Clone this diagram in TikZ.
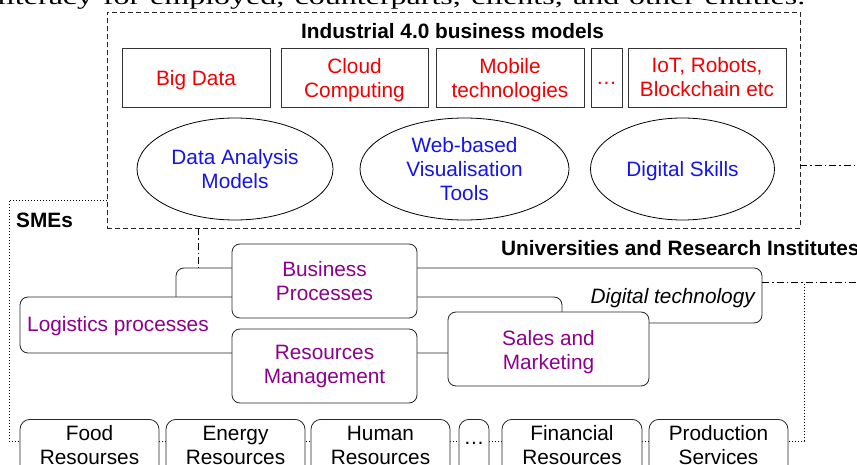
\documentclass[tikz,border=0pt]{standalone}
\usepackage{fontspec}
\setmainfont{Liberation Sans}
\newfontfamily\paperfont{Liberation Serif}
\usetikzlibrary{shapes.geometric}
\definecolor{tred}{RGB}{240,0,0}
\definecolor{tblue}{RGB}{20,20,235}
\definecolor{tpurple}{RGB}{140,0,140}
\begin{document}
\begin{tikzpicture}[x=1pt,y=-1pt, font=\fontsize{20.8}{24}\selectfont,
 redbox/.style={draw=black!80, line width=0.9pt, inner sep=0pt, minimum height=59pt},
 ell/.style={ellipse, draw=black, line width=0.8pt, inner sep=0pt, minimum height=102pt},
 rbox/.style={draw=black!85, line width=0.8pt, rounded corners=8pt, fill=white, inner sep=0pt},
 bbox/.style={draw=black!85, line width=0.8pt, rounded corners=10pt, fill=white, inner sep=0pt, minimum height=70pt, anchor=north},
 rt/.style={text=tred, align=center, inner sep=0pt},
 bt/.style={text=tblue, align=center, inner sep=0pt},
 pt/.style={text=tpurple, align=center, inner sep=0pt},
 kt/.style={align=center, inner sep=0pt},
 dashdot/.style={line width=0.8pt, dash pattern=on 7pt off 3pt on 1.5pt off 3pt},
 dotline/.style={line width=0.9pt, dash pattern=on 1pt off 2pt},
 dashbox/.style={draw=black!85, line width=0.8pt, dash pattern=on 5pt off 3pt, inner sep=0pt},
 heading/.style={font=\fontsize{20.8}{24}\selectfont\bfseries, inner sep=0pt},
]
\useasboundingbox (0,0) rectangle (857,465);
\clip (0,0) rectangle (857,465);

% cut-off paragraph line at the top
\node[anchor=base west, inner sep=0pt, yscale=0.7, transform shape, font=\paperfont\fontsize{32}{36}\selectfont] (para) at (-3,5)
  {\hbox to 808pt{literacy for employed, counterparts, clients, and other entities.}};

% SMEs dotted frame
\draw[dotline] (107,200) -- (9,200) -- (9,441) -- (804,441) -- (804,282);

% Industrial 4.0 box
\node[dashbox, fill=white, minimum width=693pt, minimum height=216pt] (ind) at (453.5,120) {};
\node[heading, anchor=base] (indt) at (452.5,39) {Industrial 4.0 business models};

\node[redbox, minimum width=148pt] (bigdata) at (196,77.5) {};
\node[redbox, minimum width=147pt] (cloud) at (354.5,77.5) {};
\node[redbox, minimum width=148pt] (mobile) at (510,77.5) {};
\node[redbox, minimum width=31pt] (rdots) at (606.5,77.5) {};
\node[redbox, minimum width=158pt] (iot) at (707,77.5) {};
\node[rt] (bigdatat) at (196,80.4) {Big Data};
\node[rt] (cloudt) at (354.5,79.7) {Cloud\\Computing};
\node[rt] (mobilet) at (510,79.7) {Mobile\\technologies};
\node[rt] (rdotst) at (606.5,83.4) {\dots};
\node[rt] (iott) at (707,77.5) {IoT, Robots,\\Blockchain etc};

\node[ell, minimum width=196pt] (dam) at (235,169) {};
\node[ell, minimum width=209pt] (web) at (464.5,169) {};
\node[ell, minimum width=184pt] (skills) at (682.5,169) {};
\node[bt] (damt) at (235,169.5) {Data Analysis\\Models};
\node[bt] (webt) at (464.5,169.5) {Web-based\\Visualisation\\Tools};
\node[bt] (skillst) at (682.5,171.4) {Digital Skills};

\node[heading, anchor=base west] (smes) at (16,228) {SMEs};
\node[heading, anchor=base west] (univ) at (501,256) {Universities and Research Institutes};

% middle layered boxes
\node[rbox, minimum width=586pt, minimum height=55pt] (dt) at (469,295.5) {};
\node[anchor=base east, inner sep=0pt] (dtl) at (755,303) {\itshape Digital technology};
\node[rbox, minimum width=542pt, minimum height=56pt] (lg) at (291,325) {};
\node[anchor=base west, inner sep=0pt, text=tpurple] (lgl) at (27,331) {Logistics processes};
\node[rbox, minimum width=185pt, minimum height=74pt] (bp) at (324.5,281) {};
\node[rbox, minimum width=185pt, minimum height=74pt] (rm) at (324.5,366) {};
\node[rbox, minimum width=201pt, minimum height=74pt] (sm) at (548.5,349) {};
\node[pt] (bpt) at (324.5,281) {Business\\Processes};
\node[pt] (rmt) at (324.5,367) {Resources\\Management};
\node[pt] (smt) at (548.5,351.7) {Sales and\\Marketing};

% dash-dot connectors
\coordinate (vx) at (198,0);
\coordinate (hy1) at (857,165);
\coordinate (hy2) at (857,282);
\draw[dashdot] (vx |- ind.south) -- (vx |- dt.north);
\draw[dashdot] (ind.east |- hy1) -- (hy1);
\draw[dashdot] (dt.east |- hy2) -- (hy2);

% bottom resource boxes
\node[bbox, minimum width=139pt] (food) at (89.5,419) {};
\node[bbox, minimum width=139pt] (energy) at (235.5,419) {};
\node[bbox, minimum width=139pt] (human) at (380.5,419) {};
\node[bbox, minimum width=30pt] (bdots) at (474,419) {};
\node[bbox, minimum width=140pt] (fin) at (572,419) {};
\node[bbox, minimum width=139pt] (prod) at (718.5,419) {};

\node[kt] (foodt) at (89.5,445.5) {Food\\Resourses};
\node[kt] (energyt) at (235.5,445.5) {Energy\\Resources};
\node[kt] (humant) at (380.5,445.5) {Human\\Resources};
\node[kt] (bdotst) at (474,443.4) {\dots};
\node[kt] (fint) at (572,445.5) {Financial\\Resources};
\node[kt] (prodt) at (718.5,445.5) {Production\\Services};
\end{tikzpicture}
\end{document}
